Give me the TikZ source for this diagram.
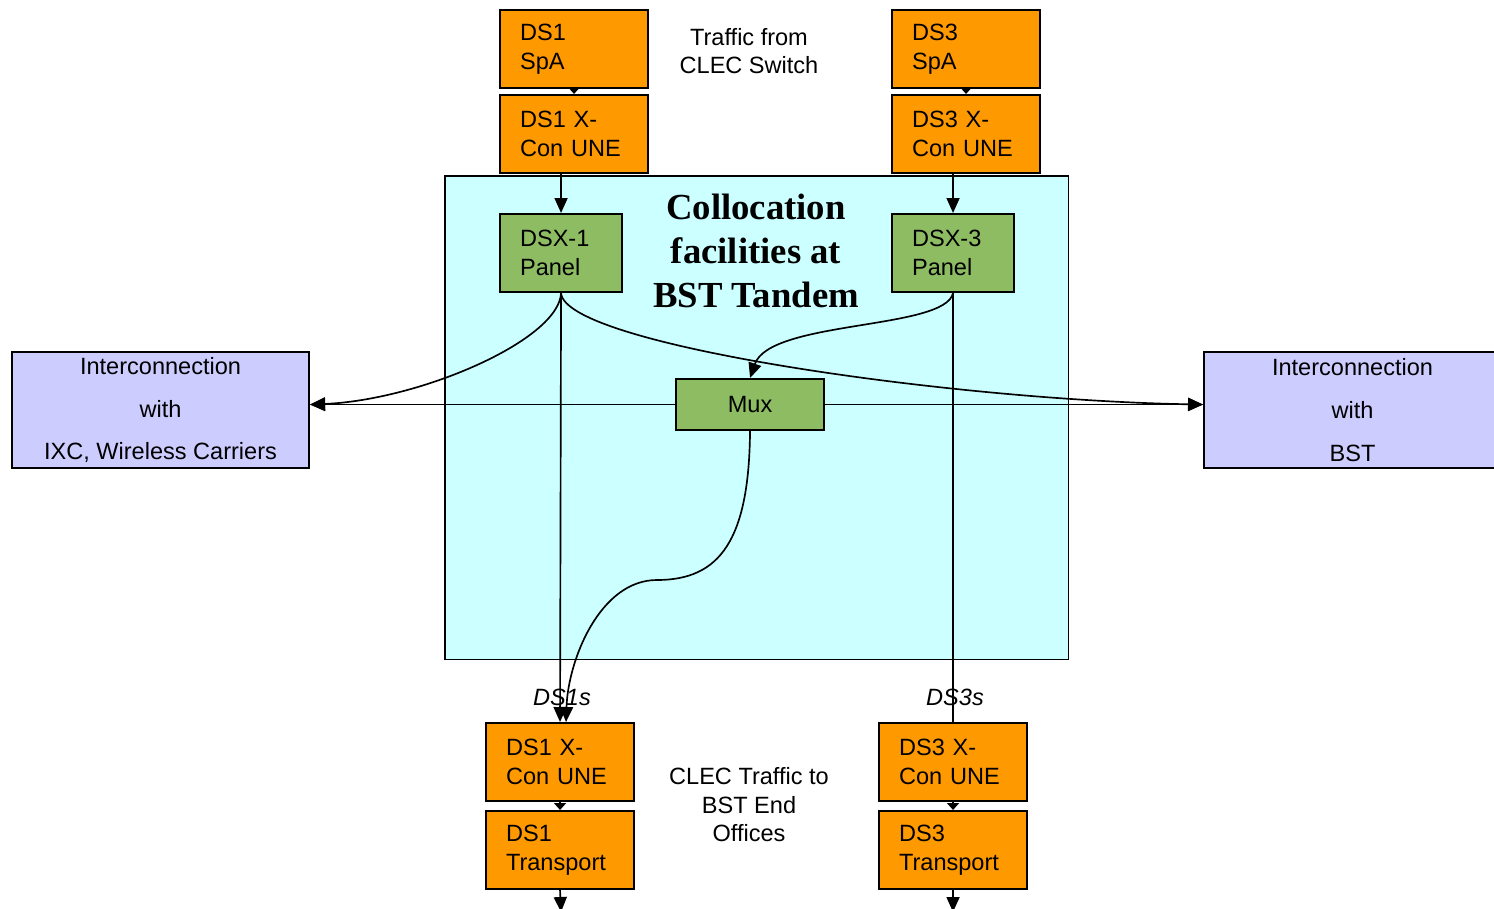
\documentclass[tikz,border=0pt]{standalone}
\usepackage{fontspec}
\setmainfont{Liberation Sans}
\newfontfamily\titlefont{Liberation Serif}
\usetikzlibrary{arrows.meta,calc}
\definecolor{orng}{HTML}{FF9900}
\definecolor{grn}{HTML}{8DBC62}
\definecolor{cyanbg}{HTML}{CCFFFF}
\definecolor{lav}{HTML}{CCCCFF}
\begin{document}
\begin{tikzpicture}[x=0.02cm,y=-0.02cm,
  box/.style={draw=black,line width=1.2pt,anchor=north west,inner xsep=0.4cm,inner ysep=0pt,align=left,minimum height=1.56cm,font=\fontsize{13.4}{16.4}\selectfont},
  obox/.style={box,fill=orng,text width=2.16cm},
  gbox/.style={box,fill=grn,text width=1.64cm},
  ibox/.style={draw=black,line width=1.2pt,anchor=north west,fill=lav,align=center,minimum width=5.94cm,minimum height=2.32cm,inner sep=0pt,font=\fontsize{13.4}{24.4}\selectfont},
  lbl/.style={align=center,inner sep=0pt,font=\fontsize{13.4}{16.4}\selectfont},
  conn/.style={line width=0.95pt},
  arr/.style={conn,-{Triangle[length=0.3cm,width=0.26cm]}},
  sarr/.style={conn,-{Triangle[length=0.14cm,width=0.24cm]}},
]
\useasboundingbox (0,0) rectangle (1494,909);
\fill[white] (0,0) rectangle (1494,909);

% big collocation area
\node[draw=black,line width=0.9pt,fill=cyanbg,anchor=north west,minimum width=12.48cm,minimum height=9.68cm,inner sep=0pt] (coll) at (444,175) {};
\node[align=center,inner sep=0pt,font=\titlefont\bfseries\fontsize{20.9}{24.9}\selectfont] (title) at (756,251) {Collocation\\facilities at\\BST Tandem};

% top boxes
\node[obox] (spa1) at (499,9) {DS1\\SpA};
\node[obox] (xc1) at (499,94) {DS1 X-\\Con UNE};
\node[obox] (spa3) at (891,9) {DS3\\SpA};
\node[obox] (xc3) at (891,94) {DS3 X-\\Con UNE};
\node[lbl] (trf) at (749,51) {Traffic from\\CLEC Switch};

% panels and mux
\node[gbox] (dsx1) at (499,213) {DSX-1\\Panel};
\node[gbox] (dsx3) at (891,213) {DSX-3\\Panel};
\node[box,fill=grn,align=center,minimum width=2.96cm,minimum height=1.02cm,inner xsep=0pt] (mux) at (675,378) {Mux};

% interconnection boxes
\node[ibox] (ixc) at (11,351) {Interconnection\\with\\IXC, Wireless Carriers};
\node[ibox] (bst) at (1203,351) {Interconnection\\with\\BST};

% bottom boxes
\node[obox] (bx1) at (485,722) {DS1 X-\\Con UNE};
\node[obox] (tr1) at (485,810) {DS1\\Transport};
\node[obox] (bx3) at (878,722) {DS3 X-\\Con UNE};
\node[obox] (tr3) at (878,810) {DS3\\Transport};
\node[lbl,font=\fontsize{13.4}{16.2}\selectfont] (clec) at (749,805) {CLEC Traffic to\\BST End\\Offices};

\coordinate (out1) at (561,912);
\coordinate (out3) at (953,912);

% connectors top
\draw[sarr] (spa1.south) -- (xc1.north);
\draw[sarr] (spa3.south) -- (xc3.north);
\draw[arr] (dsx1.north |- xc1.south) -- (dsx1.north);
\draw[arr] (dsx3.north |- xc3.south) -- (dsx3.north);

% curves from panels
\draw[arr] (dsx1.south) .. controls (559,340) and (420,400) .. (ixc.east |- mux.west);
\draw[arr] (dsx1.south) .. controls (565,345) and (950,400) .. (bst.west |- mux.west);
\draw[arr] (dsx3.south) .. controls (945,330) and (770,320) .. (mux.north);
\draw[arr] (mux.west) -- (ixc.east |- mux.west);
\draw[arr] (mux.east) -- (bst.west |- mux.east);

% verticals down
\draw[arr] (dsx1.south) -- (bx1.north);
\draw[conn] (dsx3.south) -- (bx3.north);
\draw[arr] (mux.south) .. controls (749,540) and (720,580) .. (657,580)
   .. controls (600,580) and (568,660) .. ([xshift=0.12cm]bx1.north);

\node[lbl,font=\itshape\fontsize{13.4}{16.4}\selectfont] (l1) at (562,697) {DS1s};
\node[lbl,font=\itshape\fontsize{13.4}{16.4}\selectfont] (l3) at (955,697) {DS3s};

% bottom connectors
\draw[sarr] (bx1.south) -- (tr1.north);
\draw[sarr] (bx3.south) -- (tr3.north);
\draw[arr] (tr1.south) -- (out1);
\draw[arr] (tr3.south) -- (out3);
\end{tikzpicture}
\end{document}
